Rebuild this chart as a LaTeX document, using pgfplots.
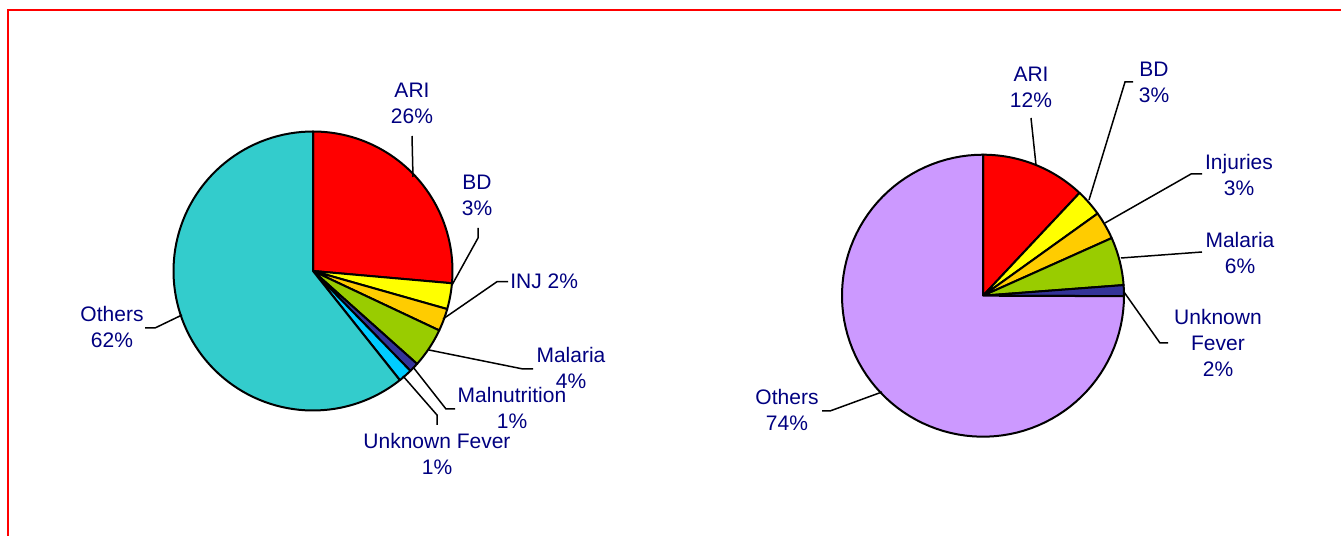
\documentclass[border=0pt]{standalone}
\usepackage{pgfplots}
\usepackage{pgfplotstable}
\pgfplotsset{compat=1.18}
\usepackage{fontspec}
\setmainfont{Liberation Sans}

\definecolor{ariRed}{RGB}{255,0,0}
\definecolor{bdYellow}{RGB}{255,255,0}
\definecolor{injOrange}{RGB}{255,204,0}
\definecolor{malGreen}{RGB}{153,204,0}
\definecolor{malnBlue}{RGB}{51,51,153}
\definecolor{ufCyan}{RGB}{0,204,255}
\definecolor{othTeal}{RGB}{51,204,204}
\definecolor{othLilac}{RGB}{204,153,255}
\definecolor{lblNavy}{RGB}{0,0,128}

% slice sizes (percent), clockwise from 12 o'clock
\pgfplotstableread[col sep=comma]{
name,value,color
ARI,26.4,ariRed
BD,3.0,bdYellow
INJ,2.6,injOrange
Malaria,4.6,malGreen
Malnutrition,1.1,malnBlue
Unknown Fever,1.6,ufCyan
Others,60.7,othTeal
}\leftpie

\pgfplotstableread[col sep=comma]{
name,value,color
ARI,12.0,ariRed
BD,3.1,bdYellow
Injuries,3.2,injOrange
Malaria,5.5,malGreen
Unknown Fever,1.25,malnBlue
Others,74.95,othLilac
}\rightpie

\tikzset{
  lbl/.style={text=lblNavy, align=center, font=\fontsize{10.5}{13}\selectfont, inner sep=0pt},
}
\pgfplotsset{
  wedge/.style={draw=black, line width=1pt, line join=round},
  leader/.style={draw=black, line width=0.75pt, no markers},
}

% #1 table, #2 cx, #3 cy, #4 r, #5 last row index
\newcommand{\drawpie}[5]{%
  \pgfmathsetmacro\wcum{0}%
  \pgfplotsforeachungrouped \wi in {0,...,#5}{%
    \pgfplotstablegetelem{\wi}{value}\of#1\let\wval\pgfplotsretval
    \pgfplotstablegetelem{\wi}{color}\of#1\let\wcol\pgfplotsretval
    \pgfmathsetmacro\wstart{90-3.6*\wcum}%
    \pgfmathsetmacro\wend{90-3.6*(\wcum+\wval)}%
    \edef\wtemp{\noexpand\addplot[wedge, fill=\wcol, domain=\wend:\wstart, samples=90]
      ({#2+#4*cos(x)},{#3+#4*sin(x)}) -- (axis cs:#2,#3) -- cycle;}%
    \wtemp
    \pgfmathsetmacro\wcum{\wcum+\wval}%
  }%
}

\begin{document}
\begin{tikzpicture}
\begin{axis}[
  width=670.5pt, height=268pt, scale only axis,
  xmin=0, xmax=1341, ymin=0, ymax=536,
  hide axis, clip=false,
]
\path (axis cs:0,0) coordinate (bl) (axis cs:1341,536) coordinate (tr);

% red frame
\addplot[draw=red, line width=1.1pt, no markers] coordinates {(8,-30) (8,526) (1370,526)};

% pies
\drawpie{\leftpie}{313}{265}{139.5}{6}
\drawpie{\rightpie}{983}{240.3}{141}{5}

% leader lines, left pie
\addplot[leader] coordinates {(412,400) (413,359)};
\addplot[leader] coordinates {(478,308) (478,298) (452,251)};
\addplot[leader] coordinates {(508,254.3) (497,254.3) (443,217)};
\addplot[leader] coordinates {(533,167) (523,167) (429,186)};
\addplot[leader] coordinates {(455,127) (446,127) (413,169)};
\addplot[leader] coordinates {(437,111) (437,121) (403,160)};
\addplot[leader] coordinates {(145,208) (155,208) (182,221)};

% leader lines, right pie
\addplot[leader] coordinates {(1031,418) (1036,371)};
\addplot[leader] coordinates {(1133,454) (1125,454) (1089,336)};
\addplot[leader] coordinates {(1202,362) (1191,362) (1105,313)};
\addplot[leader] coordinates {(1202,284) (1121,278)};
\addplot[leader] coordinates {(1168,193) (1160,193) (1124,244)};
\addplot[leader] coordinates {(822,125) (830,125) (882,144)};

% labels, left pie
\node[lbl] at (axis cs:412,432.4) {ARI\\26\%};
\node[lbl] at (axis cs:477,340.7) {BD\\3\%};
\node[lbl, anchor=west] at (axis cs:510,255) {INJ 2\%};
\node[lbl] at (axis cs:571,167.7) {Malaria\\4\%};
\node[lbl] at (axis cs:512,127.7) {Malnutrition\\1\%};
\node[lbl] at (axis cs:437,82) {Unknown Fever\\1\%};
\node[lbl] at (axis cs:112,209.3) {Others\\62\%};

% labels, right pie
\node[lbl] at (axis cs:1031,449) {ARI\\12\%};
\node[lbl] at (axis cs:1154,454) {BD\\3\%};
\node[lbl] at (axis cs:1239,361) {Injuries\\3\%};
\node[lbl] at (axis cs:1240,282.7) {Malaria\\6\%};
\node[lbl] at (axis cs:1218,192.7) {Unknown\\Fever\\2\%};
\node[lbl] at (axis cs:787,126.3) {Others\\74\%};
\end{axis}
\pgfresetboundingbox
\path[use as bounding box] (bl) rectangle (tr);
\end{tikzpicture}
\end{document}
